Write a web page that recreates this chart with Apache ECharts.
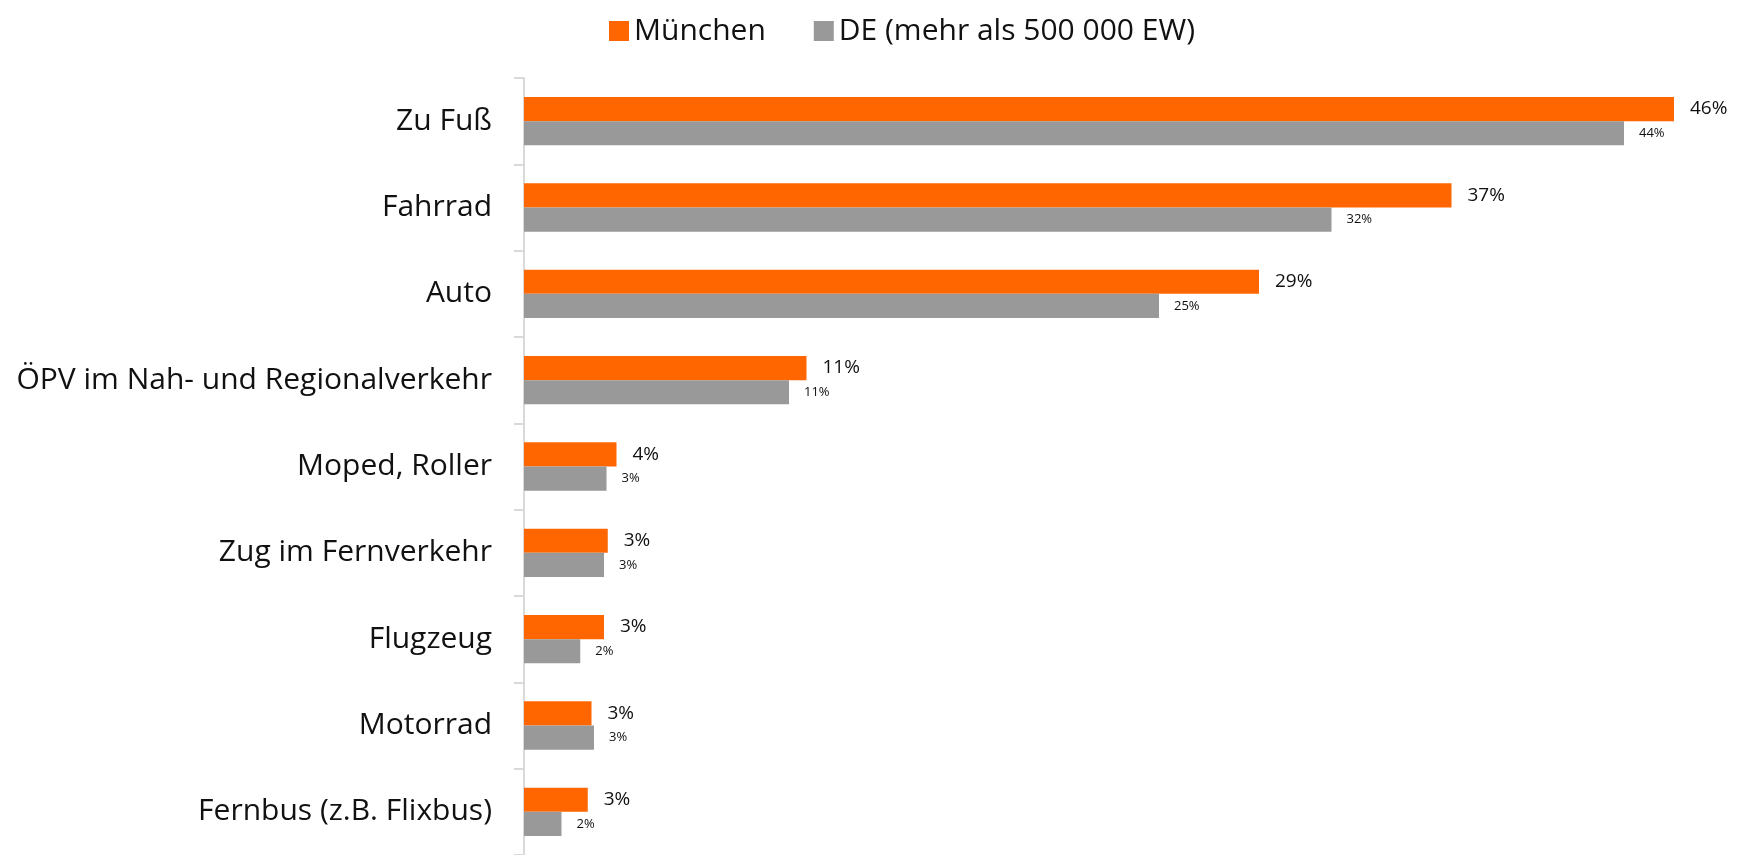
<!DOCTYPE html>
<html>
<head>
<meta charset="utf-8">
<style>
  html, body { margin: 0; padding: 0; background: #fff; }
  #chart { width: 1746px; height: 855px; }
</style>
</head>
<body>
<div id="chart"></div>
<script src="https://cdn.jsdelivr.net/npm/echarts@6/dist/echarts.min.js"></script>
<script>
// Verkehrsmittel (oben nach unten)
var categories = ['Zu Fuß', 'Fahrrad', 'Auto', 'ÖPV im Nah- und Regionalverkehr', 'Moped, Roller',
  'Zug im Fernverkehr', 'Flugzeug', 'Motorrad', 'Fernbus (z.B. Flixbus)'];
var muenchen = [46.0, 37.1, 29.4, 11.3, 3.7, 3.35, 3.2, 2.7, 2.55];
var deutschland = [44.0, 32.3, 25.4, 10.6, 3.3, 3.2, 2.25, 2.8, 1.5];
var seriesNames = ['München', 'DE (mehr als 500 000 EW)'];

var font = '"Open Sans", "Noto Sans", sans-serif';
var chart = echarts.init(document.getElementById('chart'));

function pct(p) { return Math.round(p.value) + '%'; }

chart.setOption({
  animation: false,
  textStyle: { fontFamily: font },
  legend: {
    left: 604, top: 11,
    icon: 'rect',
    itemWidth: 20, itemHeight: 20, itemGap: 48,
    textStyle: { fontSize: 30, color: '#111', fontFamily: font },
    data: seriesNames
  },
  grid: { left: 524, top: 78, width: 1200, height: 778 },
  xAxis: { type: 'value', min: 0, max: 48, show: false },
  yAxis: {
    type: 'category',
    inverse: true,
    data: categories,
    axisLine: { show: true, lineStyle: { color: '#d9d9d9', width: 2 } },
    axisTick: { show: true, length: 10, lineStyle: { color: '#d9d9d9', width: 2 } },
    axisLabel: { fontSize: 30, color: '#111', margin: 32, fontFamily: font }
  },
  series: [
    {
      name: seriesNames[0], type: 'bar', data: muenchen,
      barGap: 0, barCategoryGap: '44%',
      itemStyle: { color: '#ff6600' },
      label: { show: true, position: 'right', distance: 16, formatter: pct,
        fontSize: 19, color: '#111', fontFamily: font }
    },
    {
      name: seriesNames[1], type: 'bar', data: deutschland,
      barGap: 0, barCategoryGap: '44%',
      itemStyle: { color: '#999999' },
      label: { show: true, position: 'right', distance: 15, formatter: pct,
        fontSize: 13, color: '#111', fontFamily: font }
    }
  ]
});
</script>
</body>
</html>
